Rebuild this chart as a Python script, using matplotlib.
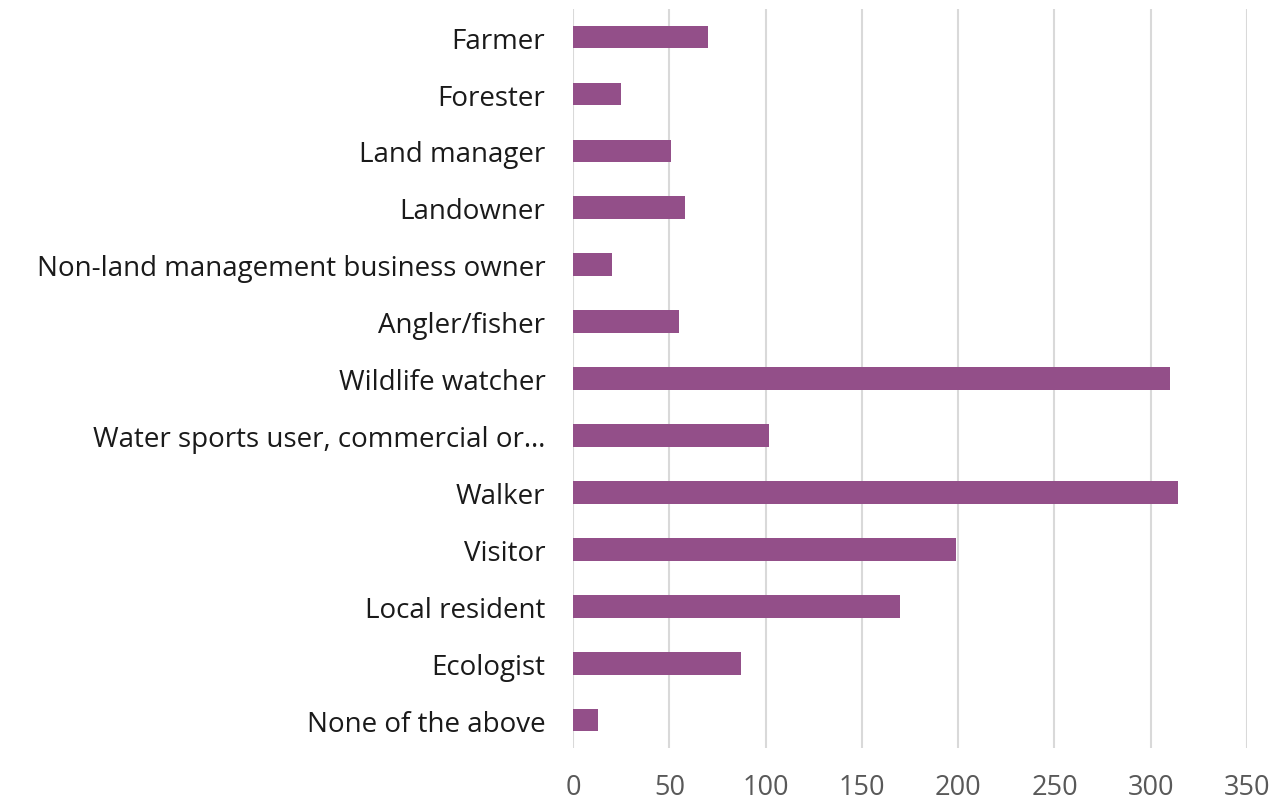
import matplotlib

matplotlib.use("Agg")
import matplotlib.pyplot as plt

categories = [
    "Farmer",
    "Forester",
    "Land manager",
    "Landowner",
    "Non-land management business owner",
    "Angler/fisher",
    "Wildlife watcher",
    "Water sports user, commercial or…",
    "Walker",
    "Visitor",
    "Local resident",
    "Ecologist",
    "None of the above",
]
counts = [70, 25, 51, 58, 20, 55, 310, 102, 314, 199, 170, 87, 13]
xticks = [0, 50, 100, 150, 200, 250, 300, 350]

plt.rcParams["font.family"] = ["Open Sans", "DejaVu Sans"]

fig = plt.figure(figsize=(12.82, 8.04), dpi=100)
ax = fig.add_axes([0.447, 0.0678, 0.5257, 0.9202])

y = list(range(len(categories)))
ax.barh(y, counts, height=0.4, color="#934f89", zorder=3)

ax.set_ylim(len(categories) - 0.5, -0.5)
ax.set_xlim(0, 350)
ax.set_yticks(y)
ax.set_yticklabels(categories, fontsize=20, color="#1a1a1a")
ax.set_xticks(xticks)
ax.set_xticklabels([str(t) for t in xticks], fontsize=19.5, color="#595959")
ax.tick_params(axis="both", length=0)
ax.tick_params(axis="y", pad=20)
ax.tick_params(axis="x", pad=18)

ax.grid(axis="x", color="#d9d9d9", linewidth=1.5, zorder=0)
for s in ax.spines.values():
    s.set_visible(False)

fig.savefig("out.png", dpi=100)
plt.close(fig)
